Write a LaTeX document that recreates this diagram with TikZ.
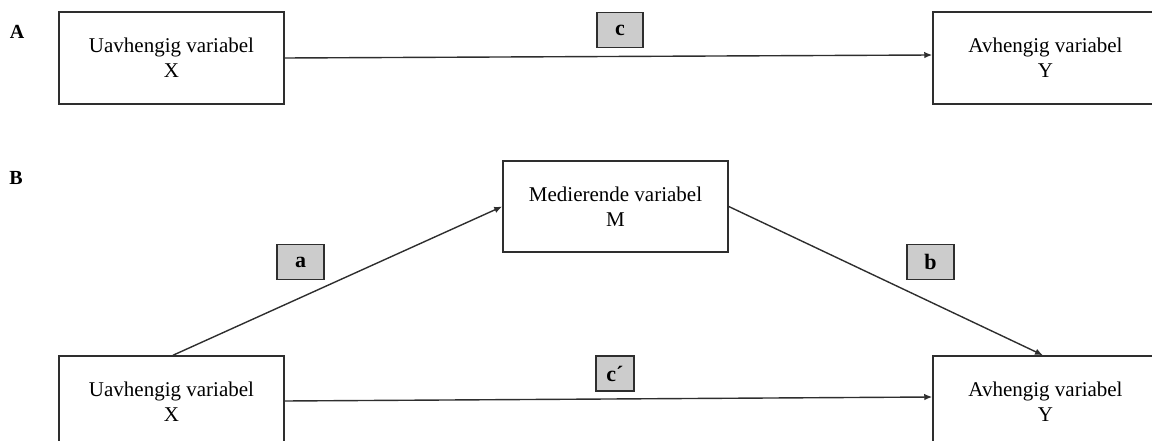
\documentclass[tikz,border=0pt]{standalone}
\usepackage{fontspec}
\setmainfont{Liberation Serif}
\usetikzlibrary{arrows.meta}
\definecolor{edge}{HTML}{2E2E2E}
\definecolor{tagfill}{HTML}{CCCCCC}
\begin{document}
\begin{tikzpicture}[x=1pt,y=-1pt,
  varbox/.style={draw=edge,line width=1.5pt,rectangle,minimum width=225pt,minimum height=92pt,
    align=center,font=\fontsize{21}{25}\selectfont,inner sep=0pt},
  tagbox/.style={draw=edge,fill=tagfill,line width=1.6pt,rectangle,minimum height=35pt,
    inner sep=0pt,font=\fontsize{22}{24}\bfseries\selectfont},
  link/.style={draw=edge,line width=1.4pt,-{Latex[length=8pt,width=6.5pt]}},
  panel/.style={font=\fontsize{20}{22}\bfseries\selectfont,inner sep=0pt}]
\useasboundingbox (0,0) rectangle (1152,441);

% Panel A: direct effect
\node[panel] (pa) at (17,32) {A};
\node[varbox] (xa) at (171.5,58) {Uavhengig variabel\\X};
\node[varbox] (ya) at (1045.5,58) {Avhengig variabel\\Y};
\node[tagbox,minimum width=46pt] (tc) at (620,30) {c};
\draw[link] (xa.east) -- ([yshift=3pt]ya.west);

% Panel B: mediated effect
\node[panel] (pb) at (16,178) {B};
\node[varbox,minimum height=91pt] (m) at (615.5,206.5) {Medierende variabel\\M};
\node[varbox] (xb) at (171.5,402) {Uavhengig variabel\\X};
\node[varbox] (yb) at (1045.5,402) {Avhengig variabel\\Y};
\node[tagbox,minimum width=47pt] (ta) at (300.5,262) {a};
\node[tagbox,minimum width=47pt] (tb) at (930.5,262) {b};
\node[tagbox,minimum width=38pt] (tcp) at (615,373.5) {c´};
\draw[link] ([xshift=1.5pt]xb.north) -- (m.west);
\draw[link] (m.east) -- ([xshift=-2.5pt]yb.north);
\draw[link] ([yshift=1pt]xb.east) -- ([yshift=5pt]yb.west);
\end{tikzpicture}
\end{document}
